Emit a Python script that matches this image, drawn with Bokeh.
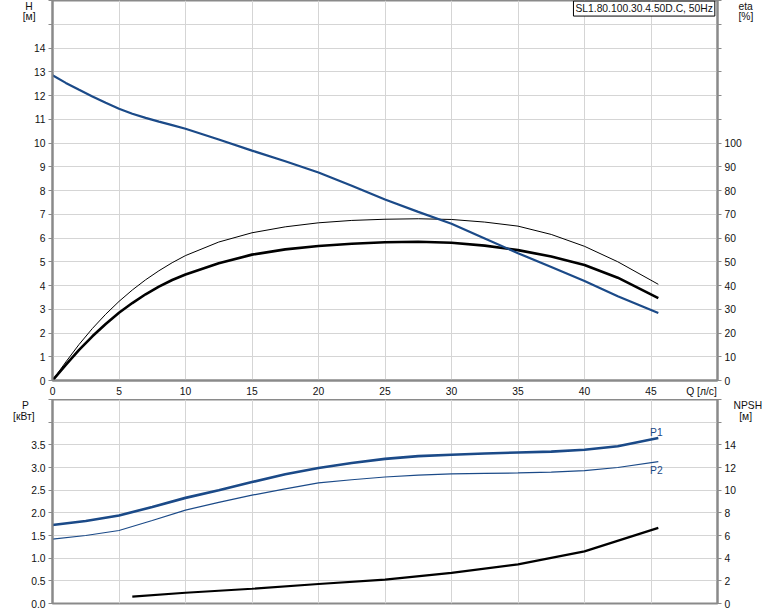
from bokeh.plotting import figure
from bokeh.models import Range1d, LinearAxis, Label, FixedTicker, NumeralTickFormatter
from bokeh.layouts import column
from bokeh.embed import file_html
from bokeh.resources import INLINE

# ---------------- data ----------------
q_h = [0, 1, 2, 3, 4, 5, 6, 7, 8, 9, 10, 12.5, 15, 17.5, 20, 22.5, 25, 27.5, 30, 32.5, 35, 37.5, 40, 42.5, 45.55]
head_m = [12.85, 12.53, 12.24, 11.96, 11.69, 11.44, 11.23, 11.06, 10.9, 10.75, 10.6, 10.15, 9.68, 9.23, 8.76, 8.2,
          7.62, 7.1, 6.6, 5.98, 5.36, 4.78, 4.19, 3.55, 2.84]

q_eta = [0, 1, 2, 3, 4, 5, 6, 7, 8, 9, 10, 12.5, 15, 17.5, 20, 22.5, 25, 27.5, 30, 32.5, 35, 37.5, 40, 42.5, 45.55]
eta_total = [0, 6.6, 12.9, 18.6, 23.8, 28.5, 32.6, 36.3, 39.5, 42.3, 44.6, 49.4, 53.0, 55.2, 56.6, 57.6, 58.2,
             58.4, 58.0, 56.8, 54.9, 52.2, 48.6, 43.3, 34.7]
eta_hydr = [0, 7.8, 15.2, 21.9, 27.9, 33.3, 38.1, 42.4, 46.2, 49.6, 52.6, 58.3, 62.2, 64.7, 66.4, 67.4, 67.9,
            68.1, 67.8, 66.7, 65.0, 61.5, 56.5, 50.0, 40.5]

q_p = [0, 2.5, 5, 7.5, 10, 12.5, 15, 17.5, 20, 22.5, 25, 27.5, 30, 32.5, 35, 37.5, 40, 42.5, 45.55]
p1_kw = [1.73, 1.82, 1.94, 2.13, 2.33, 2.50, 2.68, 2.85, 2.99, 3.10, 3.19, 3.25, 3.28, 3.31, 3.33, 3.35, 3.39, 3.47, 3.65]
p2_kw = [1.42, 1.50, 1.61, 1.83, 2.06, 2.23, 2.39, 2.53, 2.66, 2.73, 2.79, 2.83, 2.86, 2.87, 2.88, 2.90, 2.93, 3.00, 3.13]

q_npsh = [6, 10, 15, 20, 25, 30, 35, 40, 45.55]
npsh_m = [0.6, 0.95, 1.3, 1.72, 2.1, 2.7, 3.45, 4.6, 6.67]

q_ticks = [0, 5, 10, 15, 20, 25, 30, 35, 40, 45, 50]
h_ticks = list(range(0, 17))
eta_ticks = list(range(0, 161, 10))
p_ticks = [0, 0.5, 1.0, 1.5, 2.0, 2.5, 3.0, 3.5, 4.0, 4.5]
npsh_ticks = list(range(0, 19, 2))

title_text = "SL1.80.100.30.4.50D.C, 50Hz"
q_label = "Q [л/с]"
h_label = ["H", "[м]"]
eta_label = ["eta", "[%]"]
p_label = ["P", "[кВт]"]
npsh_label = ["NPSH", "[м]"]

# ---------------- style ----------------
FONT = "Liberation Sans"
FS = "10.3px"
BLUE = "#1b4a88"
AXIS = "#8a8a8a"
GRID = "#d5d5d5"
TXT = "#111111"
NB = "\u00a0"


def style_axis(ax):
    ax.axis_line_color = AXIS
    ax.axis_line_width = 2
    ax.major_tick_line_color = AXIS
    ax.major_tick_in = 0
    ax.major_tick_out = 4
    ax.minor_tick_line_color = None
    ax.major_label_text_font = FONT
    ax.major_label_text_font_size = FS
    ax.major_label_text_color = TXT
    ax.major_label_standoff = 3


def title_axis(p, side, spots, texts, standoff, range_name="default"):
    """Axis with no line/ticks used only to print the unit captions outside the frame."""
    ax = LinearAxis(y_range_name=range_name, ticker=FixedTicker(ticks=spots),
                    major_label_overrides=dict(zip(spots, texts)),
                    axis_line_color=None, major_tick_line_color=None, minor_tick_line_color=None,
                    major_tick_in=0, major_tick_out=0, major_label_standoff=standoff,
                    major_label_text_font=FONT,
                    major_label_text_font_size=FS, major_label_text_color=TXT)
    p.add_layout(ax, side)


# ---------------- top chart: H and eta ----------------
top = figure(width=774, height=399, x_range=Range1d(0, 50), y_range=Range1d(0, 16),
             output_backend="svg", toolbar_location=None,
             min_border_left=52, min_border_right=57, min_border_top=0, min_border_bottom=18)
top.extra_y_ranges = {"eta": Range1d(0, 160)}
top.background_fill_color = "white"
top.border_fill_color = "white"
top.outline_line_color = AXIS
top.outline_line_width = 2

q_label_spot = 48.8
top.xaxis.ticker = FixedTicker(ticks=q_ticks[:-1] + [q_label_spot])
top.xaxis.major_label_overrides = {q_label_spot: q_label}
top.yaxis.ticker = FixedTicker(ticks=h_ticks)
top.yaxis.major_label_overrides = {15: "", 16: ""}
style_axis(top.xaxis[0])
style_axis(top.yaxis[0])
top.xaxis.major_tick_line_color = None
top.xaxis.major_tick_out = 0
top.xaxis.major_label_standoff = 5

eta_axis = LinearAxis(y_range_name="eta", ticker=FixedTicker(ticks=eta_ticks),
                      major_label_overrides={t: "" for t in eta_ticks if t > 100})
style_axis(eta_axis)
top.add_layout(eta_axis, "right")

# captions: left side labels are right-aligned, right side labels left-aligned;
# non-breaking spaces centre the shorter line under/over the longer one
title_axis(top, "left", [15.79, 15.31], [h_label[0] + NB, h_label[1]], -4)
title_axis(top, "right", [157.9, 153.1], eta_label, -6, "eta")

top.xgrid.ticker = FixedTicker(ticks=q_ticks)
top.ygrid.ticker = FixedTicker(ticks=h_ticks)
for g in (top.xgrid, top.ygrid):
    g.grid_line_color = GRID
    g.grid_line_width = 1

top.line(q_eta, eta_hydr, y_range_name="eta", line_color="black", line_width=1)
top.line(q_eta, eta_total, y_range_name="eta", line_color="black", line_width=2.6)
top.line(q_h, head_m, line_color=BLUE, line_width=2.2)

top.add_layout(Label(x=49.8, y=15.66, text=title_text, text_align="right", text_baseline="middle",
                     text_font=FONT, text_font_size=FS, text_color=TXT,
                     border_line_color="black", border_line_width=1,
                     background_fill_color="white", padding=2))

# ---------------- bottom chart: P and NPSH ----------------
bot = figure(width=774, height=212, x_range=top.x_range, y_range=Range1d(0, 4.5),
             output_backend="svg", toolbar_location=None,
             min_border_left=52, min_border_right=57, min_border_top=0, min_border_bottom=8)
bot.extra_y_ranges = {"npsh": Range1d(0, 18)}
bot.background_fill_color = "white"
bot.border_fill_color = "white"
bot.outline_line_color = AXIS
bot.outline_line_width = 2
bot.xaxis.visible = False

bot.yaxis.ticker = FixedTicker(ticks=p_ticks)
bot.yaxis.formatter = NumeralTickFormatter(format="0.0")
bot.yaxis.major_label_overrides = {4: "", 4.5: ""}
style_axis(bot.yaxis[0])

npsh_axis = LinearAxis(y_range_name="npsh", ticker=FixedTicker(ticks=npsh_ticks),
                       major_label_overrides={16: "", 18: ""})
style_axis(npsh_axis)
bot.add_layout(npsh_axis, "right")

title_axis(bot, "left", [4.368, 4.114], [p_label[0] + NB * 2, p_label[1]], -6)
title_axis(bot, "right", [17.47, 16.46], [npsh_label[0], NB * 2 + npsh_label[1]], -5, "npsh")

bot.xgrid.ticker = FixedTicker(ticks=q_ticks)
bot.ygrid.ticker = FixedTicker(ticks=p_ticks)
for g in (bot.xgrid, bot.ygrid):
    g.grid_line_color = GRID
    g.grid_line_width = 1

bot.line(q_p, p1_kw, line_color=BLUE, line_width=2.6)
bot.line(q_p, p2_kw, line_color=BLUE, line_width=1.2)
bot.line(q_npsh, npsh_m, y_range_name="npsh", line_color="black", line_width=2.2)

for name, yv in (("P1", 3.77), ("P2", 2.93)):
    bot.add_layout(Label(x=45.4, y=yv, text=name, text_align="center", text_baseline="middle",
                         text_font=FONT, text_font_size=FS, text_color=BLUE))

layout = column(top, bot, spacing=0)

open("out.html", "w").write(file_html(layout, INLINE))
